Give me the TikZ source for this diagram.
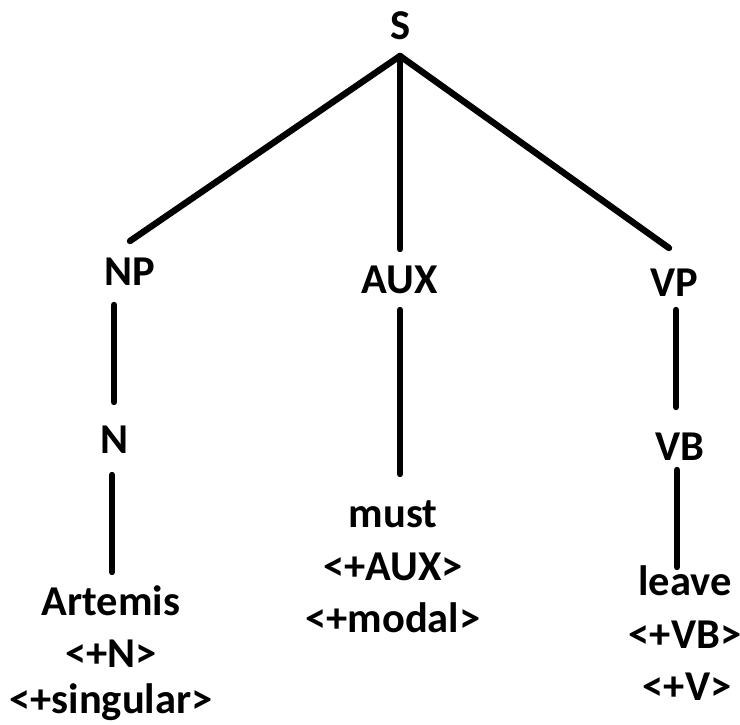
\documentclass[tikz,border=0pt]{standalone}
\usepackage{fontspec}
\setmainfont{Carlito}
\begin{document}
\begin{tikzpicture}[x=0.5pt,y=-0.5pt,
  lbl/.style={anchor=base,inner sep=0pt,font=\fontsize{21.25}{26}\selectfont\bfseries},
  edge/.style={line width=3.2pt,line cap=round,black}]
\useasboundingbox (0,0) rectangle (740,724);
% labels
\node[lbl] (S) at (401,39) {S};
\node[lbl] (NP) at (130,285) {NP};
\node[lbl] (AUX) at (400,293) {AUX};
\node[lbl] (VP) at (674,296) {VP};
\node[lbl] (N) at (114,453) {N};
\node[lbl] (VB) at (680,460) {VB};
\node[lbl] (must) at (393,527) {must};
\node[lbl] (mustA) at (393,580) {<+AUX>};
\node[lbl] (mustB) at (393,632) {<+modal>};
\node[lbl] (art) at (111,615) {Artemis};
\node[lbl] (artA) at (111,667) {<+N>};
\node[lbl] (artB) at (111,713) {<+singular>};
\node[lbl] (leave) at (685,595) {leave};
\node[lbl] (leaveA) at (685,648) {<+VB>};
\node[lbl] (leaveB) at (687,700) {<+V>};
% connector end points
\coordinate (Sj) at (400,56);
\coordinate (NPt) at (130,241);
\coordinate (AUXt) at (400,249);
\coordinate (VPt) at (669,248);
\coordinate (NPb) at (114,305);
\coordinate (Nt) at (114,402);
\coordinate (Nb) at (112,475);
\coordinate (artt) at (112,572);
\coordinate (AUXb) at (400,310);
\coordinate (mustt) at (400,474);
\coordinate (VPb) at (676,310);
\coordinate (VBt) at (676,407);
\coordinate (VBb) at (677,470);
\coordinate (leavet) at (677,567);
% connectors
\draw[edge] (Sj) -- (NPt);
\draw[edge] (Sj) -- (AUXt);
\draw[edge] (Sj) -- (VPt);
\draw[edge] (NPb) -- (Nt);
\draw[edge] (Nb) -- (artt);
\draw[edge] (AUXb) -- (mustt);
\draw[edge] (VPb) -- (VBt);
\draw[edge] (VBb) -- (leavet);
\end{tikzpicture}
\end{document}
